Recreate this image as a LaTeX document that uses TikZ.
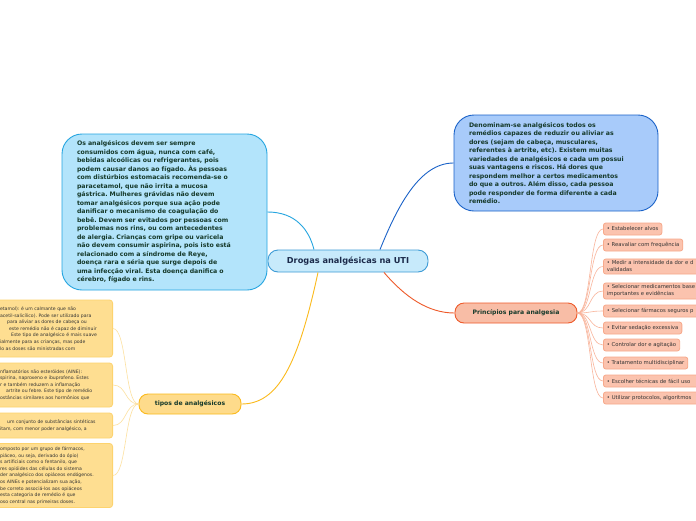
\documentclass[tikz,border=0pt]{standalone}
\usepackage{fontspec}
\setmainfont{DejaVu Sans}
\frenchspacing
\definecolor{cfill}{HTML}{C7EAFB}
\definecolor{cline}{HTML}{3D9BD6}
\definecolor{navy}{HTML}{1B2A4A}
\definecolor{lbfill}{HTML}{B3E4FB}
\definecolor{lbline}{HTML}{25A5E0}
\definecolor{rbfill}{HTML}{A8CBFA}
\definecolor{rbline}{HTML}{1A62C8}
\definecolor{dtext}{HTML}{15392A}
\definecolor{pfill}{HTML}{F8BDA6}
\definecolor{pline}{HTML}{EE5A2A}
\definecolor{yfill}{HTML}{FEDB8B}
\definecolor{yline}{HTML}{FBBA1C}
\definecolor{pcfill}{HTML}{FBC3AE}
\definecolor{pcline}{HTML}{F7A98B}
\definecolor{pcconn}{HTML}{F9B49B}
\definecolor{ycfill}{HTML}{FEDE91}
\definecolor{ycline}{HTML}{FDD36E}
\definecolor{ycconn}{HTML}{FDE1A0}
\definecolor{gtext}{HTML}{333333}
\begin{document}
\begin{tikzpicture}[x=1pt,y=-1pt,
  bigbox/.style={draw, line width=0.9pt, rounded corners=20pt, text=dtext, align=left,
    font=\fontsize{6.2}{8.5}\selectfont\bfseries, inner xsep=15pt},
  topic/.style={draw, line width=0.9pt, rounded corners=9pt, text=dtext,
    font=\fontsize{6.1}{7}\selectfont\bfseries, minimum height=20pt},
  pchild/.style={draw=pcline, fill=pcfill, line width=0.8pt, rounded corners=2.5pt, text=gtext,
    font=\fontsize{5.3}{7}\selectfont, align=left, anchor=west, inner xsep=3.5pt,
    inner ysep=2pt, minimum height=12pt},
  pwide/.style={pchild, text width=100pt},
  ychild/.style={draw=ycline, fill=ycfill, line width=0.8pt, rounded corners=3pt, text=gtext,
    font=\fontsize{4.6}{6.6}\selectfont, align=left, anchor=east, inner xsep=3.5pt,
    text width=109pt},
  pconn/.style={draw=pcconn, line width=0.6pt},
  yconn/.style={draw=ycconn, line width=0.6pt}]
\useasboundingbox (0,0) rectangle (696,520);
\clip (0,0) rectangle (696,520);
\fill[white] (0,0) rectangle (696,520);

% central
\node[draw=cline, fill=cfill, line width=0.9pt, rounded corners=10pt, minimum width=160pt,
  minimum height=22pt, text=navy, font=\fontsize{8.2}{10}\selectfont\bfseries] (C) at (348,261)
  {Drogas analgésicas na UTI};

% left big node
\node[bigbox, draw=lbline, fill=lbfill, text width=175pt, minimum height=156pt] (L) at (164.5,212)
{Os analgésicos devem ser sempre\\
consumidos com água, nunca com café,\\
bebidas alcoólicas ou refrigerantes, pois\\
podem causar danos ao fígado. Às pessoas\\
com distúrbios estomacais recomenda-se o\\
paracetamol, que não irrita a mucosa\\
gástrica. Mulheres grávidas não devem\\
tomar analgésicos porque sua ação pode\\
danificar o mecanismo de coagulação do\\
bebê. Devem ser evitados por pessoas com\\
problemas nos rins, ou com antecedentes\\
de alergia. Crianças com gripe ou varicela\\
não devem consumir aspirina, pois isto está\\
relacionado com a síndrome de Reye,\\
doença rara e séria que surge depois de\\
uma infecção viral. Esta doença danifica o\\
cérebro, fígado e rins.};

% right big node
\node[bigbox, draw=rbline, fill=rbfill, text width=174pt, minimum height=96pt] (R) at (556,163)
{Denominam-se analgésicos todos os\\
remédios capazes de reduzir ou aliviar as\\
dores (sejam de cabeça, musculares,\\
referentes à artrite, etc). Existem muitas\\
variedades de analgésicos e cada um possui\\
suas vantagens e riscos. Há dores que\\
respondem melhor a certos medicamentos\\
do que a outros. Além disso, cada pessoa\\
pode responder de forma diferente a cada\\
remédio.};

% topics
\node[topic, draw=pline, fill=pfill, minimum width=122pt] (P) at (516,313) {Princípios para analgesia};
\node[topic, draw=yline, fill=yfill, minimum width=102pt] (T) at (190,404) {tipos de analgésicos};

% main connectors
\draw[lbline, line width=0.9pt] (L.east) .. controls (296,212) and (309,230) .. ([xshift=-34pt]C.north);
\draw[rbline, line width=0.9pt] ([xshift=32pt]C.north) .. controls (398,205) and (420,163) .. (R.west);
\draw[pline, line width=0.9pt] ([xshift=36pt]C.south) .. controls (405,297) and (428,313) .. (P.west);
\draw[yline, line width=0.9pt] ([xshift=-30pt]C.south) .. controls (298,365) and (278,404) .. (T.east);

% pink children
\node[pchild] (p1) at (603,229) {• Estabelecer alvos};
\node[pchild] (p2) at (603,245) {• Reavaliar com frequência};
\node[pwide] (p3) at (603,266.5) {• Medir a intensidade da dor e d\\validadas};
\node[pwide] (p4) at (603,291) {• Selecionar medicamentos base\\importantes e evidências};
\node[pwide] (p5) at (603,311) {• Selecionar fármacos seguros p};
\node[pchild] (p6) at (603,328) {• Evitar sedação excessiva};
\node[pchild] (p7) at (603,345) {• Controlar dor e agitação};
\node[pchild] (p8) at (603,363) {• Tratamento multidisciplinar};
\node[pwide] (p9) at (603,381) {• Escolher técnicas de fácil uso};
\node[pwide] (p10) at (603,398) {• Utilizar protocolos, algoritmos};

\foreach \n in {p1,p2,p3,p4,p5,p6,p7,p8,p9,p10}
  \draw[pconn] (P.east) .. controls ([xshift=14pt]P.east) and ([xshift=-14pt]\n.west) .. (\n.west);

% yellow children
\node[ychild, minimum height=57pt] (y1) at (113,328.5)
{etamol): é um calmante que não\\
acetil-salicílico). Pode ser utilizado para\\
\hspace*{7pt}para aliviar as dores de cabeça ou\\
\hspace*{9pt}este remédio não é capaz de diminuir\\
\hspace*{11pt}Este tipo de analgésico é mais suave\\
ialmente para as crianças, mas pode\\
lo as doses são ministradas com};
\node[ychild, minimum height=44pt] (y2) at (113,385)
{nflamatórios não esteróides (AINE):\\
spirina, naproxeno e ibuprofeno. Estes\\
r e também reduzem a inflamação\\
\hspace*{6pt}artrite ou febre. Este tipo de remédio\\
ostâncias similares aos hormônios que};
\node[ychild, minimum height=25pt] (y3) at (113,425.5)
{\hspace*{7pt}um conjunto de substâncias sintéticas\\
itam, com menor poder analgésico, a};
\node[ychild, minimum height=63pt] (y4) at (113,475.5)
{omposto por um grupo de fármacos,\\
piáceo, ou seja, derivado do ópio)\\
s artificiais como o fentanilo, que\\
res opióides das células do sistema\\
der analgésico dos opiáceos endógenos.\\
os AINEs e potencializam sua ação,\\
be correto associá-los aos opiáceos\\
esta categoria de remédio é que\\
oso central nas primeiras doses.};

\foreach \n in {y1,y2,y3,y4}
  \draw[yconn] (T.west) .. controls ([xshift=-14pt]T.west) and ([xshift=14pt]\n.east) .. (\n.east);
\end{tikzpicture}
\end{document}
